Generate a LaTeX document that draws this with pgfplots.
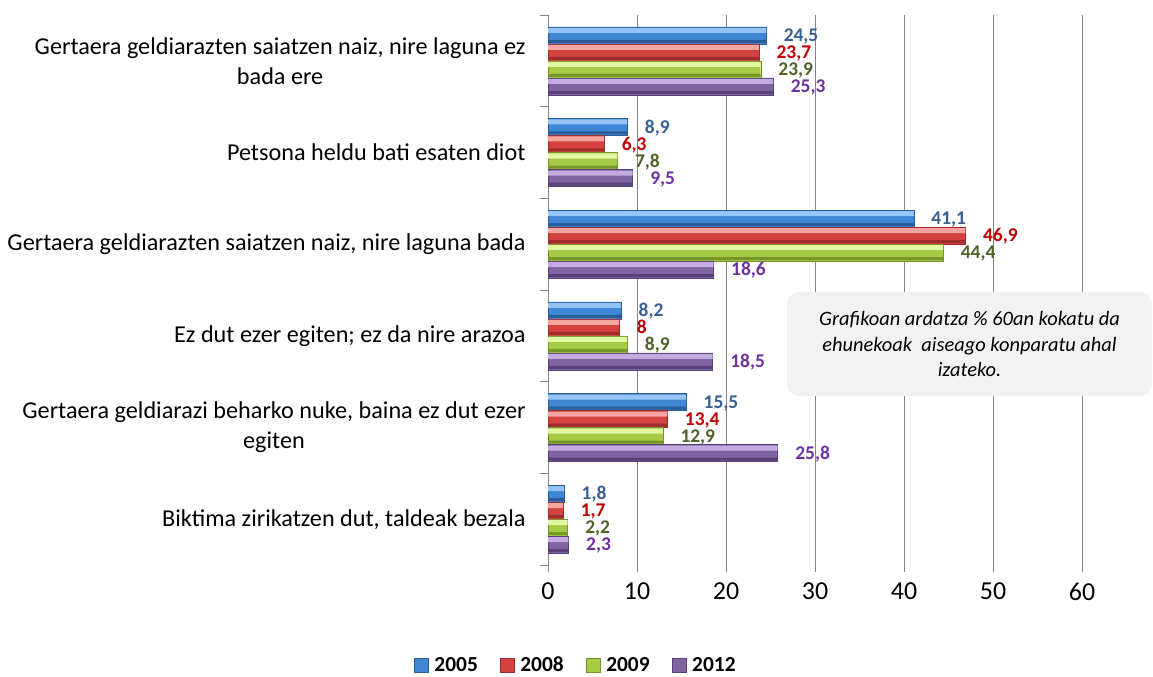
\documentclass[border=0pt]{standalone}
\usepackage{pgfplots}
\pgfplotsset{compat=1.18}
\usepackage{fontspec}
\setmainfont{Carlito}
\definecolor{lblue}{HTML}{376092}
\definecolor{lred}{HTML}{C00000}
\definecolor{lgreen}{HTML}{4F6228}
\definecolor{lpurple}{HTML}{7030A0}
\definecolor{gridc}{HTML}{868686}
\definecolor{btop}{HTML}{93C4F5}
\definecolor{bmid}{HTML}{3F86D4}
\definecolor{bbot}{HTML}{2A5C98}
\definecolor{rtop}{HTML}{F5A5A2}
\definecolor{rmid}{HTML}{D4423F}
\definecolor{rbot}{HTML}{9E2C2A}
\definecolor{gtop}{HTML}{E2F7A3}
\definecolor{gmid}{HTML}{A6C946}
\definecolor{gbot}{HTML}{76962A}
\definecolor{ptop}{HTML}{C2ACE2}
\definecolor{pmid}{HTML}{8064A2}
\definecolor{pbot}{HTML}{574277}
\definecolor{boxc}{HTML}{F2F2F2}
\pgfplotstableread{
y a b c d
0 24.5 23.7 23.9 25.3
1 8.9 6.3 7.8 9.5
2 41.1 46.9 44.4 18.6
3 8.2 8 8.9 18.5
4 15.5 13.4 12.9 25.8
5 1.8 1.7 2.2 2.3
}\datatab
\begin{document}
\begin{tikzpicture}[x=1bp,y=1bp]
\path[use as bounding box] (0,0) rectangle (1153,677);
\begin{axis}[
  at={(548bp,112bp)}, anchor=south west,
  scale only axis, width=534bp, height=550bp,
  xbar, bar width=17bp,
  legend image code/.code={\path[#1,line width=0.5bp] (0bp,-7bp) rectangle (14bp,7bp);},
  xmin=0, xmax=60, ymin=-0.5, ymax=5.5, y dir=reverse,
  axis x line*=bottom, axis y line*=left,
  x axis line style={draw=none},
  y axis line style={draw=gridc, line width=0.8bp},
  xtick={0,10,...,60},
  xmajorgrids, major grid style={draw=gridc, line width=0.8bp},
  tick align=outside,
  major tick length=7bp,
  x tick style={draw=gridc, line width=0.8bp},
  ytick={0,...,5},
  y tick style={draw=none},
  minor ytick={-0.5,0.5,...,5.5},
  minor y tick style={draw=gridc, line width=0.8bp},
  minor tick length=8bp,
  yticklabels={{Gertaera geldiarazten saiatzen naiz, nire laguna ez\\bada ere},
    {Petsona heldu bati esaten diot},
    {Gertaera geldiarazten saiatzen naiz, nire laguna bada},
    {Ez dut ezer egiten; ez da nire arazoa},
    {Gertaera geldiarazi beharko nuke, baina ez dut ezer\\egiten},
    {Biktima zirikatzen dut, taldeak bezala}},
  yticklabel style={align=center, font=\fontsize{24.3}{30}\selectfont, xshift=-12bp},
  xticklabel style={font=\fontsize{26}{28}\selectfont, yshift=-7bp},
  /pgf/number format/assume math mode=true,
  /pgf/number format/use comma,
  every node near coord/.append style={font=\bfseries\fontsize{19.5}{20}\selectfont, anchor=west, inner sep=0.5bp, text height=12.5bp, text depth=0bp, xshift=17bp},
  nodes near coords align={horizontal},
  legend style={at={(0.052,-0.182)}, anchor=center, legend columns=4, draw=none,
    font=\bfseries\fontsize{21.5}{22}\selectfont,
    /tikz/every even column/.append style={column sep=20bp},
    /tikz/every odd column/.append style={column sep=4bp}},
]
% main bars
\addplot[bar shift=25.5bp, fill=bmid, draw=bbot, nodes near coords, every node near coord/.append style={text=lblue}] table[x=a,y=y]{\datatab};
\addplot[bar shift=8.5bp, fill=rmid, draw=rbot, nodes near coords, every node near coord/.append style={text=lred}] table[x=b,y=y]{\datatab};
\addplot[bar shift=-8.5bp, fill=gmid, draw=gbot, nodes near coords, every node near coord/.append style={text=lgreen}] table[x=c,y=y]{\datatab};
\addplot[bar shift=-25.5bp, fill=pmid, draw=pbot, nodes near coords, every node near coord/.append style={text=lpurple}] table[x=d,y=y]{\datatab};
% bevel highlights
\addplot[forget plot, bar width=5bp, bar shift=30.5bp, fill=btop, draw=none] table[x=a,y=y]{\datatab};
\addplot[forget plot, bar width=5bp, bar shift=13.5bp, fill=rtop, draw=none] table[x=b,y=y]{\datatab};
\addplot[forget plot, bar width=5bp, bar shift=-3.5bp, fill=gtop, draw=none] table[x=c,y=y]{\datatab};
\addplot[forget plot, bar width=5bp, bar shift=-20.5bp, fill=ptop, draw=none] table[x=d,y=y]{\datatab};
\addplot[forget plot, bar width=3bp, bar shift=19.5bp, fill=bbot, draw=none] table[x=a,y=y]{\datatab};
\addplot[forget plot, bar width=3bp, bar shift=2.5bp, fill=rbot, draw=none] table[x=b,y=y]{\datatab};
\addplot[forget plot, bar width=3bp, bar shift=-14.5bp, fill=gbot, draw=none] table[x=c,y=y]{\datatab};
\addplot[forget plot, bar width=3bp, bar shift=-31.5bp, fill=pbot, draw=none] table[x=d,y=y]{\datatab};
\legend{2005,2008,2009,2012}
\end{axis}
\node[fill=boxc, rounded corners=12bp, minimum width=365bp, minimum height=104bp, align=center,
  font=\itshape\fontsize{20.5}{26}\selectfont] at (969.5,333) {Grafikoan ardatza \% 60an kokatu da\\ehunekoak\ \ aiseago konparatu ahal\\izateko.};
\end{tikzpicture}
\end{document}
